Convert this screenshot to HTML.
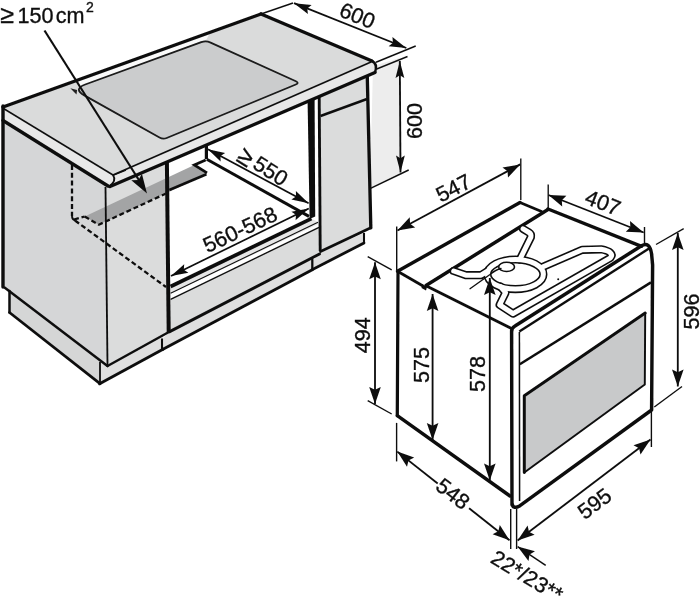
<!DOCTYPE html>
<html><head><meta charset="utf-8"><title>Installation diagram</title>
<style>
html,body{margin:0;padding:0;background:#fff;}
svg{display:block;}
text{font-family:"Liberation Sans",sans-serif;fill:#111;stroke:#111;stroke-width:0.35px;}
</style></head>
<body>
<svg width="700" height="596" viewBox="0 0 700 596">
<defs><filter id="soft" x="0" y="0" width="100%" height="100%" filterUnits="userSpaceOnUse"><feGaussianBlur stdDeviation="0.45"/></filter></defs>
<rect width="700" height="596" fill="#fff"/>
<g filter="url(#soft)">
<polygon points="373.0,66.0 399.5,58.0 399.5,174.0 370.0,188.5" fill="#ededed" stroke="none" stroke-width="0" stroke-linejoin="round" />
<polygon points="3.0,118.0 108.0,186.0 107.5,366.0 4.5,287.5" fill="#d5d6d7" stroke="none" stroke-width="0" stroke-linejoin="round" />
<polygon points="9.5,291.0 9.5,312.5 100.0,383.7 100.0,361.0" fill="#d5d6d6" stroke="none" stroke-width="0" stroke-linejoin="round" />
<polygon points="100.0,361.0 100.0,383.7 163.0,349.5 163.0,337.0" fill="#dfdfdf" stroke="none" stroke-width="0" stroke-linejoin="round" />
<polygon points="106.0,186.0 168.0,162.0 168.9,332.0 107.5,366.0" fill="#dbdcdc" stroke="none" stroke-width="0" stroke-linejoin="round" />
<polygon points="84.7,216.5 98.8,224.7 206.4,174.3 207.0,172.9 194.3,165.0" fill="#a3a4a5" stroke="none" stroke-width="0" stroke-linejoin="round" />
<polygon points="170.6,287.0 311.0,218.5 318.0,222.0 318.0,224.3 170.6,293.5" fill="#e6e6e6" stroke="none" stroke-width="0" stroke-linejoin="round" />
<polygon points="170.6,299.3 319.0,227.5 319.5,254.0 169.7,331.7" fill="#dbdcdc" stroke="none" stroke-width="0" stroke-linejoin="round" />
<polygon points="163.0,338.0 169.7,331.7 312.0,258.0 312.0,269.8 163.0,349.3" fill="#dfdfdf" stroke="none" stroke-width="0" stroke-linejoin="round" />
<polygon points="319.0,97.0 367.3,76.0 370.8,227.8 320.0,252.0" fill="#dbdcdc" stroke="none" stroke-width="0" stroke-linejoin="round" />
<polygon points="313.0,260.5 321.0,252.0 364.0,233.0 364.0,243.0 313.0,269.3" fill="#dfdfdf" stroke="none" stroke-width="0" stroke-linejoin="round" />
<polygon points="3.0,107.0 261.0,14.0 372.0,61.0 113.0,175.0" fill="#dadbdb" stroke="none" stroke-width="0" stroke-linejoin="round" />
<polygon points="3.0,107.0 113.0,175.0 114.5,180.0 110.0,186.0 3.0,120.0" fill="#e8e8e8" stroke="none" stroke-width="0" stroke-linejoin="round" />
<polygon points="113.0,175.0 372.0,61.0 376.0,66.0 375.0,72.5 110.0,186.0 114.5,180.0" fill="#e8e8e8" stroke="none" stroke-width="0" stroke-linejoin="round" />
<polygon points="78.0,80.2 210.0,32.8 206.5,39.5 80.0,86.5" fill="#fafafa" stroke="none" stroke-width="0" stroke-linejoin="round" />
<path d="M84.3,95.4 Q73.0,89.0 85.2,84.5 L201.3,42.2 Q206.0,40.5 210.6,42.6 L295.9,81.3 Q299.5,83.0 295.8,84.5 L166.7,138.0 Q163.0,139.5 159.5,137.5 Z" fill="#cbcccd" stroke="#1a1a1a" stroke-width="1.8" stroke-linejoin="round" />
<polygon points="70.3,88.3 77.1,89.9 76.5,94.5" fill="#222" stroke="none" stroke-width="0" stroke-linejoin="round" />
<line x1="3.0" y1="107.0" x2="261.0" y2="14.0" stroke="#111" stroke-width="3.45" stroke-linecap="round" />
<line x1="261.0" y1="14.0" x2="372.0" y2="61.0" stroke="#111" stroke-width="3.45" stroke-linecap="round" />
<line x1="261.0" y1="14.0" x2="293.0" y2="3.0" stroke="#111" stroke-width="1.38" stroke-linecap="butt" />
<line x1="3.0" y1="106.0" x2="3.0" y2="287.0" stroke="#111" stroke-width="3.45" stroke-linecap="round" />
<line x1="3.0" y1="120.5" x2="108.0" y2="186.0" stroke="#111" stroke-width="3.45" stroke-linecap="round" />
<line x1="110.0" y1="186.5" x2="375.0" y2="72.5" stroke="#111" stroke-width="3.45" stroke-linecap="round" />
<line x1="3.5" y1="108.5" x2="113.0" y2="175.0" stroke="#111" stroke-width="1.61" stroke-linecap="butt" />
<line x1="113.0" y1="175.0" x2="371.0" y2="62.0" stroke="#111" stroke-width="1.84" stroke-linecap="butt" />
<path d="M372,61 Q378,64 375,72.5" fill="none" stroke="#111" stroke-width="2.53" stroke-linecap="round" stroke-linejoin="round" />
<path d="M113,175 Q117,181 109,186.5" fill="none" stroke="#111" stroke-width="1.84" stroke-linecap="round" stroke-linejoin="round" />
<line x1="113.5" y1="175.2" x2="126.0" y2="170.2" stroke="#111" stroke-width="1.26" stroke-linecap="butt" />
<line x1="4.5" y1="287.5" x2="107.5" y2="366.0" stroke="#111" stroke-width="2.53" stroke-linecap="round" />
<line x1="105.5" y1="187.0" x2="107.5" y2="366.0" stroke="#111" stroke-width="1.84" stroke-linecap="butt" />
<line x1="9.5" y1="291.0" x2="9.5" y2="312.5" stroke="#111" stroke-width="2.53" stroke-linecap="round" />
<line x1="9.5" y1="312.5" x2="100.0" y2="383.7" stroke="#111" stroke-width="2.76" stroke-linecap="round" />
<line x1="100.0" y1="362.0" x2="100.0" y2="383.7" stroke="#111" stroke-width="1.84" stroke-linecap="butt" />
<line x1="99.6" y1="383.7" x2="163.0" y2="349.3" stroke="#111" stroke-width="2.99" stroke-linecap="round" />
<line x1="107.5" y1="366.0" x2="168.9" y2="332.0" stroke="#111" stroke-width="2.53" stroke-linecap="round" />
<line x1="162.0" y1="338.5" x2="162.0" y2="349.0" stroke="#111" stroke-width="2.07" stroke-linecap="butt" />
<line x1="166.9" y1="163.0" x2="168.7" y2="332.0" stroke="#111" stroke-width="4.02" stroke-linecap="butt" />
<line x1="206.4" y1="146.0" x2="206.4" y2="159.0" stroke="#111" stroke-width="3.22" stroke-linecap="butt" />
<line x1="206.8" y1="159.3" x2="309.0" y2="216.4" stroke="#111" stroke-width="2.99" stroke-linecap="butt" />
<polyline points="205.7,160.0 194.3,165.0 207.0,172.9" fill="none" stroke="#111" stroke-width="2.76" stroke-linecap="butt" stroke-linejoin="miter" />
<line x1="206.4" y1="174.3" x2="169.3" y2="190.0" stroke="#111" stroke-width="2.76" stroke-linecap="butt" />
<polyline points="72.0,165.0 72.0,216.0" fill="none" stroke="#111" stroke-width="2.30" stroke-linecap="butt" stroke-linejoin="round" stroke-dasharray="5 2.8"/>
<path d="M72,216 Q72,219.5 75,220.5" fill="none" stroke="#111" stroke-width="1.84" stroke-linecap="round" stroke-linejoin="round" />
<polyline points="75.0,220.5 166.0,287.0" fill="none" stroke="#111" stroke-width="2.30" stroke-linecap="butt" stroke-linejoin="round" stroke-dasharray="5 2.8"/>
<polyline points="74.0,219.5 84.7,216.5" fill="none" stroke="#111" stroke-width="2.30" stroke-linecap="butt" stroke-linejoin="round" stroke-dasharray="5 2.8"/>
<polyline points="84.7,216.5 98.8,224.7 166.0,193.5" fill="none" stroke="#111" stroke-width="2.30" stroke-linecap="butt" stroke-linejoin="round" stroke-dasharray="5 2.8"/>
<line x1="170.6" y1="286.5" x2="311.4" y2="218.6" stroke="#111" stroke-width="3.68" stroke-linecap="butt" />
<line x1="170.6" y1="293.3" x2="318.0" y2="222.3" stroke="#111" stroke-width="1.15" stroke-linecap="butt" />
<line x1="170.6" y1="299.3" x2="319.0" y2="227.3" stroke="#111" stroke-width="1.38" stroke-linecap="butt" />
<line x1="169.7" y1="331.7" x2="319.5" y2="254.0" stroke="#111" stroke-width="2.99" stroke-linecap="round" />
<line x1="163.0" y1="349.3" x2="312.3" y2="269.8" stroke="#111" stroke-width="2.99" stroke-linecap="round" />
<line x1="312.3" y1="258.5" x2="312.3" y2="269.5" stroke="#111" stroke-width="2.30" stroke-linecap="butt" />
<polygon points="307.6,101.5 314.6,98.5 315.2,216.5 309.6,219.0" fill="#111" stroke="none" stroke-width="0" stroke-linejoin="round" />
<line x1="319.2" y1="96.0" x2="320.2" y2="251.0" stroke="#111" stroke-width="2.88" stroke-linecap="butt" />
<line x1="367.3" y1="77.0" x2="370.8" y2="227.8" stroke="#111" stroke-width="3.33" stroke-linecap="round" />
<line x1="320.5" y1="251.5" x2="370.8" y2="227.8" stroke="#111" stroke-width="2.76" stroke-linecap="round" />
<line x1="320.5" y1="116.0" x2="367.0" y2="99.0" stroke="#111" stroke-width="2.53" stroke-linecap="butt" />
<line x1="364.0" y1="233.0" x2="364.0" y2="243.0" stroke="#111" stroke-width="2.07" stroke-linecap="butt" />
<line x1="313.0" y1="269.3" x2="364.0" y2="243.0" stroke="#111" stroke-width="2.76" stroke-linecap="round" />
<line x1="44.5" y1="30.5" x2="143.0" y2="186.5" stroke="#111" stroke-width="2.18" stroke-linecap="butt" />
<polygon points="147.0,193.5 131.3,180.3 138.5,180.0 141.9,173.7" fill="#111" stroke="none" stroke-width="0" stroke-linejoin="round" />
<text x="0.2" y="23.2" font-size="25">≥</text>
<text x="17.4" y="23.2" font-size="21.6">150</text>
<text x="55.8" y="23.2" font-size="21.6">cm</text>
<text x="86" y="12.4" font-size="14">2</text>
<line x1="294.0" y1="3.2" x2="406.3" y2="48.0" stroke="#111" stroke-width="1.84" stroke-linecap="butt" />
<polygon points="294.0,3.2 311.6,4.9 307.3,8.5 307.9,14.1" fill="#111" stroke="none" stroke-width="0" stroke-linejoin="round" />
<polygon points="406.3,48.0 388.7,46.3 393.0,42.7 392.4,37.1" fill="#111" stroke="none" stroke-width="0" stroke-linejoin="round" />
<text x="357.5" y="15.5" transform="rotate(22 357.5 15.5)" font-size="21.6" text-anchor="middle" dominant-baseline="central" >600</text>
<line x1="376.0" y1="62.3" x2="415.7" y2="46.0" stroke="#111" stroke-width="1.49" stroke-linecap="butt" />
<line x1="375.5" y1="69.5" x2="407.5" y2="56.5" stroke="#111" stroke-width="1.38" stroke-linecap="butt" />
<line x1="399.8" y1="61.0" x2="400.5" y2="172.5" stroke="#111" stroke-width="1.84" stroke-linecap="butt" />
<polygon points="399.8,61.0 404.3,78.0 399.9,75.3 395.5,78.0" fill="#111" stroke="none" stroke-width="0" stroke-linejoin="round" />
<polygon points="400.5,172.5 396.0,155.5 400.4,158.2 404.8,155.5" fill="#111" stroke="none" stroke-width="0" stroke-linejoin="round" />
<text x="414.5" y="121.0" transform="rotate(-90 414.5 121.0)" font-size="21.6" text-anchor="middle" dominant-baseline="central" >600</text>
<line x1="370.5" y1="188.3" x2="408.7" y2="170.0" stroke="#111" stroke-width="1.49" stroke-linecap="butt" />
<line x1="207.9" y1="149.3" x2="308.6" y2="203.3" stroke="#111" stroke-width="1.84" stroke-linecap="butt" />
<polygon points="207.9,149.3 225.1,153.1 220.5,156.1 220.6,161.5" fill="#111" stroke="none" stroke-width="0" stroke-linejoin="round" />
<polygon points="308.6,203.3 291.4,199.5 296.0,196.5 295.9,191.1" fill="#111" stroke="none" stroke-width="0" stroke-linejoin="round" />
<text x="246.0" y="156.5" transform="rotate(32.5 246.0 156.5)" font-size="26" text-anchor="middle" dominant-baseline="central" >≥</text>
<text x="270.6" y="170.9" transform="rotate(32.5 270.6 170.9)" font-size="21.6" text-anchor="middle" dominant-baseline="central" >550</text>
<line x1="171.0" y1="276.0" x2="308.8" y2="208.5" stroke="#111" stroke-width="1.84" stroke-linecap="butt" />
<polygon points="171.0,276.0 184.2,264.3 183.8,269.7 188.4,272.8" fill="#111" stroke="none" stroke-width="0" stroke-linejoin="round" />
<polygon points="308.8,208.5 295.6,220.2 296.0,214.8 291.4,211.7" fill="#111" stroke="none" stroke-width="0" stroke-linejoin="round" />
<text x="240.0" y="229.5" transform="rotate(-25.5 240.0 229.5)" font-size="21.6" text-anchor="middle" dominant-baseline="central" >560-568</text>
<polygon points="524.3,395.7 645.2,313.0 644.8,384.5 524.3,472.5" fill="#c8c9ca" stroke="none" stroke-width="0" stroke-linejoin="round" />
<line x1="397.5" y1="271.2" x2="520.0" y2="202.5" stroke="#111" stroke-width="3.45" stroke-linecap="round" />
<line x1="520.0" y1="202.5" x2="541.5" y2="211.5" stroke="#111" stroke-width="2.76" stroke-linecap="round" />
<line x1="426.0" y1="285.5" x2="548.0" y2="209.5" stroke="#111" stroke-width="3.45" stroke-linecap="round" />
<line x1="548.0" y1="209.0" x2="641.5" y2="246.3" stroke="#111" stroke-width="3.45" stroke-linecap="round" />
<line x1="397.5" y1="271.2" x2="423.0" y2="286.0" stroke="#111" stroke-width="2.76" stroke-linecap="butt" />
<polygon points="422.0,284.0 427.0,287.0 426.0,290.5 421.5,288.0" fill="#111" stroke="none" stroke-width="0" stroke-linejoin="round" />
<line x1="427.5" y1="286.5" x2="511.5" y2="328.5" stroke="#111" stroke-width="2.99" stroke-linecap="round" />
<line x1="398.0" y1="271.0" x2="397.3" y2="415.7" stroke="#111" stroke-width="3.22" stroke-linecap="round" />
<line x1="397.3" y1="415.7" x2="510.0" y2="496.0" stroke="#111" stroke-width="3.45" stroke-linecap="round" />
<path d="M512,505 L511.6,332 Q511.4,328 515,326 L641.5,245.8 Q649.5,241 651.6,254 L652.6,265 L651.6,410 L520,505.7 Q512.6,510 512,503" fill="none" stroke="#111" stroke-width="3.45" stroke-linecap="round" stroke-linejoin="round" />
<line x1="519.4" y1="332.0" x2="519.6" y2="501.0" stroke="#111" stroke-width="1.49" stroke-linecap="butt" />
<line x1="519.3" y1="331.6" x2="649.8" y2="247.9" stroke="#111" stroke-width="2.42" stroke-linecap="butt" />
<line x1="519.8" y1="364.3" x2="651.0" y2="282.4" stroke="#111" stroke-width="2.53" stroke-linecap="butt" />
<path d="M524.3,472.5 L524.3,395.7 L645.2,313" fill="none" stroke="#111" stroke-width="2.99" stroke-linecap="round" stroke-linejoin="round" />
<path d="M645.2,313 L644.8,384.5 L524.3,472.5" fill="none" stroke="#111" stroke-width="1.95" stroke-linecap="round" stroke-linejoin="round" />
<path d="M453.7,271 L465.7,275.2 L481,275.2 L487,271.5" fill="none" stroke="#111" stroke-width="8.20" stroke-linecap="round" stroke-linejoin="round" />
<path d="M519.8,259.5 L530.9,237.1 Q531.5,234 529,232.5 L523.1,228.9" fill="none" stroke="#111" stroke-width="8.20" stroke-linecap="round" stroke-linejoin="round" />
<path d="M542.5,267 L582.3,249.8 L601,249.3 Q615,252 610.5,257.8 L513,313.6 L499.6,304.8 L505.6,292.6 L500.5,286.6" fill="none" stroke="#111" stroke-width="8.20" stroke-linecap="round" stroke-linejoin="round" />
<ellipse cx="515.4" cy="274.3" rx="28" ry="14.8" fill="none" stroke="#111" stroke-width="8.2"/>
<path d="M453.7,271 L465.7,275.2 L481,275.2 L487,271.5" fill="none" stroke="#fff" stroke-width="5.00" stroke-linecap="round" stroke-linejoin="round" />
<path d="M519.8,259.5 L530.9,237.1 Q531.5,234 529,232.5 L523.1,228.9" fill="none" stroke="#fff" stroke-width="5.00" stroke-linecap="round" stroke-linejoin="round" />
<path d="M542.5,267 L582.3,249.8 L601,249.3 Q615,252 610.5,257.8 L513,313.6 L499.6,304.8 L505.6,292.6 L500.5,286.6" fill="none" stroke="#fff" stroke-width="5.00" stroke-linecap="round" stroke-linejoin="round" />
<ellipse cx="515.4" cy="274.3" rx="28" ry="14.8" fill="none" stroke="#fff" stroke-width="5.0"/>
<circle cx="558.2" cy="279.3" r="1" fill="#111"/>
<ellipse cx="506.6" cy="266.9" rx="7.9" ry="4.6" fill="#fff" stroke="#111" stroke-width="1.6"/>
<path d="M470,288.7 L490,274.5 Q496,269.5 501,268.5" fill="none" stroke="#111" stroke-width="1.38" stroke-linecap="round" stroke-linejoin="round" />
<line x1="396.7" y1="226.5" x2="396.7" y2="270.0" stroke="#111" stroke-width="1.38" stroke-linecap="butt" />
<line x1="520.8" y1="158.5" x2="520.8" y2="200.0" stroke="#111" stroke-width="1.38" stroke-linecap="butt" />
<line x1="397.5" y1="230.5" x2="520.2" y2="164.4" stroke="#111" stroke-width="1.84" stroke-linecap="butt" />
<polygon points="397.5,230.5 409.7,217.3 410.1,223.7 415.2,227.5" fill="#111" stroke="none" stroke-width="0" stroke-linejoin="round" />
<polygon points="520.2,164.4 508.0,177.6 507.6,171.2 502.5,167.4" fill="#111" stroke="none" stroke-width="0" stroke-linejoin="round" />
<text x="453.5" y="188.0" transform="rotate(-27 453.5 188.0)" font-size="21.6" text-anchor="middle" dominant-baseline="central" >547</text>
<line x1="548.2" y1="184.5" x2="548.2" y2="208.7" stroke="#111" stroke-width="1.38" stroke-linecap="butt" />
<line x1="644.5" y1="227.0" x2="644.5" y2="243.0" stroke="#111" stroke-width="1.38" stroke-linecap="butt" />
<line x1="548.5" y1="195.0" x2="643.7" y2="232.5" stroke="#111" stroke-width="1.84" stroke-linecap="butt" />
<polygon points="548.5,195.0 566.4,195.8 561.8,200.2 562.2,206.6" fill="#111" stroke="none" stroke-width="0" stroke-linejoin="round" />
<polygon points="643.7,232.5 625.8,231.7 630.4,227.3 630.0,220.9" fill="#111" stroke="none" stroke-width="0" stroke-linejoin="round" />
<text x="603.0" y="202.5" transform="rotate(21.5 603.0 202.5)" font-size="21.6" text-anchor="middle" dominant-baseline="central" >407</text>
<line x1="656.0" y1="244.5" x2="683.7" y2="228.7" stroke="#111" stroke-width="1.38" stroke-linecap="butt" />
<line x1="654.3" y1="407.0" x2="682.0" y2="386.5" stroke="#111" stroke-width="1.38" stroke-linecap="butt" />
<line x1="677.8" y1="233.0" x2="677.8" y2="386.5" stroke="#111" stroke-width="1.84" stroke-linecap="butt" />
<polygon points="677.8,233.0 683.6,250.0 677.8,247.3 672.0,250.0" fill="#111" stroke="none" stroke-width="0" stroke-linejoin="round" />
<polygon points="677.8,386.5 672.0,369.5 677.8,372.2 683.6,369.5" fill="#111" stroke="none" stroke-width="0" stroke-linejoin="round" />
<text x="691.4" y="311.4" transform="rotate(-90 691.4 311.4)" font-size="21.6" text-anchor="middle" dominant-baseline="central" >596</text>
<line x1="367.7" y1="256.6" x2="391.7" y2="269.9" stroke="#111" stroke-width="1.38" stroke-linecap="butt" />
<line x1="367.7" y1="400.7" x2="391.7" y2="414.0" stroke="#111" stroke-width="1.38" stroke-linecap="butt" />
<line x1="375.0" y1="262.2" x2="375.0" y2="404.0" stroke="#111" stroke-width="1.84" stroke-linecap="butt" />
<polygon points="375.0,262.2 380.8,279.2 375.0,276.5 369.2,279.2" fill="#111" stroke="none" stroke-width="0" stroke-linejoin="round" />
<polygon points="375.0,404.0 369.2,387.0 375.0,389.7 380.8,387.0" fill="#111" stroke="none" stroke-width="0" stroke-linejoin="round" />
<text x="362.9" y="335.3" transform="rotate(-90 362.9 335.3)" font-size="21.6" text-anchor="middle" dominant-baseline="central" >494</text>
<line x1="432.6" y1="294.0" x2="432.6" y2="440.0" stroke="#111" stroke-width="1.84" stroke-linecap="butt" />
<polygon points="432.6,294.0 438.4,311.0 432.6,308.3 426.8,311.0" fill="#111" stroke="none" stroke-width="0" stroke-linejoin="round" />
<polygon points="432.6,440.0 426.8,423.0 432.6,425.7 438.4,423.0" fill="#111" stroke="none" stroke-width="0" stroke-linejoin="round" />
<text x="421.5" y="365.0" transform="rotate(-90 421.5 365.0)" font-size="21.6" text-anchor="middle" dominant-baseline="central" >575</text>
<line x1="489.8" y1="278.0" x2="489.8" y2="480.5" stroke="#111" stroke-width="1.84" stroke-linecap="butt" />
<polygon points="489.8,278.0 495.6,295.0 489.8,292.3 484.0,295.0" fill="#111" stroke="none" stroke-width="0" stroke-linejoin="round" />
<polygon points="489.8,480.5 484.0,463.5 489.8,466.2 495.6,463.5" fill="#111" stroke="none" stroke-width="0" stroke-linejoin="round" />
<text x="477.0" y="374.0" transform="rotate(-90 477.0 374.0)" font-size="21.6" text-anchor="middle" dominant-baseline="central" >578</text>
<line x1="396.6" y1="422.9" x2="396.6" y2="461.4" stroke="#111" stroke-width="1.38" stroke-linecap="butt" />
<line x1="510.7" y1="508.9" x2="510.7" y2="549.0" stroke="#111" stroke-width="1.38" stroke-linecap="butt" />
<line x1="516.6" y1="508.9" x2="516.6" y2="549.0" stroke="#111" stroke-width="1.38" stroke-linecap="butt" />
<line x1="397.3" y1="451.6" x2="437.7" y2="483.5" stroke="#111" stroke-width="1.84" stroke-linecap="butt" />
<line x1="469.1" y1="508.3" x2="509.5" y2="540.2" stroke="#111" stroke-width="1.84" stroke-linecap="butt" />
<polygon points="397.3,451.6 414.2,457.6 408.5,460.5 407.0,466.7" fill="#111" stroke="none" stroke-width="0" stroke-linejoin="round" />
<polygon points="509.5,540.2 492.6,534.2 498.3,531.3 499.8,525.1" fill="#111" stroke="none" stroke-width="0" stroke-linejoin="round" />
<text x="453.0" y="493.7" transform="rotate(38 453.0 493.7)" font-size="21.6" text-anchor="middle" dominant-baseline="central" >548</text>
<line x1="517.6" y1="540.4" x2="650.5" y2="439.6" stroke="#111" stroke-width="1.84" stroke-linecap="butt" />
<polygon points="517.6,540.4 527.6,525.5 529.0,531.8 534.6,534.7" fill="#111" stroke="none" stroke-width="0" stroke-linejoin="round" />
<polygon points="650.5,439.6 640.5,454.5 639.1,448.2 633.5,445.3" fill="#111" stroke="none" stroke-width="0" stroke-linejoin="round" />
<line x1="651.4" y1="412.0" x2="651.4" y2="447.0" stroke="#111" stroke-width="1.38" stroke-linecap="butt" />
<text x="594.5" y="503.5" transform="rotate(-37 594.5 503.5)" font-size="21.6" text-anchor="middle" dominant-baseline="central" >595</text>
<line x1="517.6" y1="546.6" x2="545.7" y2="565.4" stroke="#111" stroke-width="1.49" stroke-linecap="butt" />
<polygon points="517.6,546.6 535.0,551.2 529.5,554.6 528.5,560.9" fill="#111" stroke="none" stroke-width="0" stroke-linejoin="round" />
<text x="527.0" y="576.0" transform="rotate(31 527.0 576.0)" font-size="21.6" text-anchor="middle" dominant-baseline="central" >22*/23**</text>
</g>
</svg>
</body></html>
